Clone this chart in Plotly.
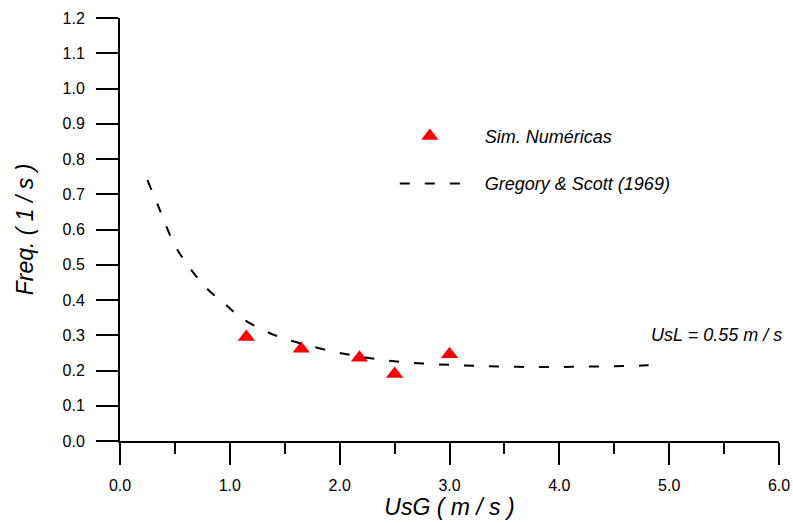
import plotly.graph_objects as go

# Numerical simulation points
sim_x = [1.15, 1.65, 2.18, 2.5, 3.0]
sim_y = [0.295, 0.262, 0.236, 0.19, 0.246]

# Gregory & Scott (1969) correlation curve
gs_x = [0.25, 0.35, 0.5, 0.65, 0.8, 0.95, 1.1, 1.3, 1.5, 1.75, 2.0, 2.25, 2.5,
        2.75, 3.0, 3.25, 3.5, 3.75, 4.0, 4.25, 4.5, 4.75, 4.95]
gs_y = [0.74, 0.665, 0.555, 0.485, 0.43, 0.39, 0.35, 0.315, 0.29, 0.268, 0.25,
        0.236, 0.226, 0.22, 0.216, 0.213, 0.211, 0.21, 0.21, 0.211, 0.212, 0.214, 0.216]

x_ticks = [0, 1, 2, 3, 4, 5, 6]
y_ticks = [round(0.1 * i, 1) for i in range(13)]

FONT = "Arial, Liberation Sans, sans-serif"
PAD = "\u00a0" * 4

fig = go.Figure()
fig.add_trace(go.Scatter(
    x=sim_x, y=sim_y, mode="markers", name=PAD + "Sim. Numéricas",
    marker=dict(symbol="triangle-up", size=15, color="#ff0000", line=dict(width=0)),
    legendgroup="a", cliponaxis=False,
))
fig.add_trace(go.Scatter(
    x=gs_x, y=gs_y, mode="lines", name=PAD + "Gregory & Scott (1969)",
    line=dict(color="black", width=2, dash="10px,15px", shape="spline"),
    legendgroup="b",
))

fig.add_annotation(
    x=4.82, y=0.30, xref="x", yref="y", text="<i>UsL = 0.55 m / s</i>",
    showarrow=False, xanchor="left", yanchor="middle",
    font=dict(family=FONT, size=18, color="black"),
)

axis_common = dict(
    showgrid=False, zeroline=False, showline=True, linecolor="black", linewidth=2,
    ticks="outside", ticklen=22, tickwidth=2, tickcolor="black",
    tickfont=dict(family=FONT, size=16, color="black"),
    tickformat=".1f", automargin=False,
)

fig.update_layout(
    width=793, height=523,
    margin=dict(l=120, r=14, t=18, b=82, autoexpand=False),
    paper_bgcolor="white", plot_bgcolor="white",
    font=dict(family=FONT, color="black"),
    showlegend=True,
    legend=dict(
        x=0.417, y=0.764, xanchor="left", yanchor="top",
        font=dict(family=FONT, size=18, color="black", style="italic"),
        itemwidth=60, tracegroupgap=21, bgcolor="rgba(0,0,0,0)",
        borderwidth=0,
    ),
    xaxis=dict(
        range=[0, 6], tickvals=x_ticks, ticklabelstandoff=7,
        minor=dict(dtick=0.5, ticklen=11, tickwidth=2, tickcolor="black", ticks="outside", showgrid=False),
        title=dict(text="<i>UsG ( m / s )</i>", font=dict(family=FONT, size=23), standoff=2),
        **axis_common,
    ),
    yaxis=dict(
        range=[0, 1.2], tickvals=y_ticks, ticklabelstandoff=8,
        title=dict(text="<i>Freq. ( 1 / s )</i>", font=dict(family=FONT, size=23), standoff=22),
        **axis_common,
    ),
)

fig.write_html("out.html")
